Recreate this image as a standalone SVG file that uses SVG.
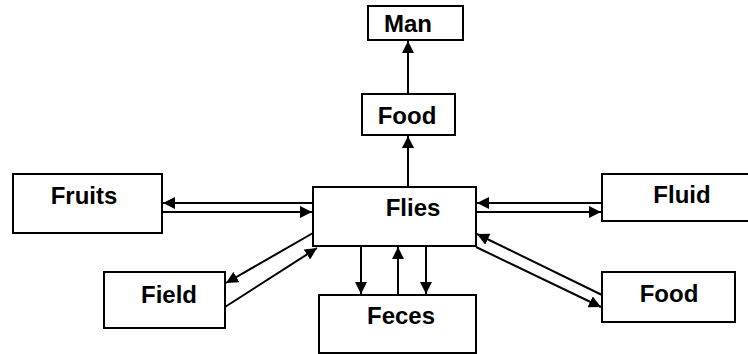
<svg xmlns="http://www.w3.org/2000/svg" width="748" height="354" viewBox="0 0 748 354">
<style>
.box{fill:#fff;stroke:#000;stroke-width:2}
.lbl{font-family:"Liberation Sans",Arial,sans-serif;font-weight:bold;font-size:24px;text-anchor:middle;fill:#000}
.c{stroke:#000;stroke-width:2;fill:none;marker-end:url(#ah)}
</style>
<defs>
<marker id="ah" markerUnits="userSpaceOnUse" markerWidth="14" markerHeight="12" refX="12" refY="6" orient="auto">
<path d="M0,0 L12,6 L0,12 Z" fill="#000"/>
</marker>
</defs>
<rect width="748" height="354" fill="#fff"/>
<g id="man"><rect class="box" x="368" y="6" width="95" height="34"/><text class="lbl" x="408" y="32">Man</text></g>
<g id="food-top"><rect class="box" x="362" y="94" width="93" height="41"/><text class="lbl" x="407" y="124">Food</text></g>
<g id="flies"><rect class="box" x="313" y="187" width="163" height="59"/><text class="lbl" x="413" y="216">Flies</text></g>
<g id="fruits"><rect class="box" x="13" y="174" width="149" height="59"/><text class="lbl" x="84" y="204">Fruits</text></g>
<g id="field"><rect class="box" x="104" y="272" width="121" height="56"/><text class="lbl" x="169" y="303">Field</text></g>
<g id="feces"><rect class="box" x="319" y="295" width="157" height="58"/><text class="lbl" x="401" y="324">Feces</text></g>
<g id="fluid"><rect class="box" x="602" y="174" width="150" height="47"/><text class="lbl" x="682" y="203">Fluid</text></g>
<g id="food-right"><rect class="box" x="602" y="272" width="133" height="50"/><text class="lbl" x="669" y="302">Food</text></g>
<g id="connectors">
<line class="c" x1="408" y1="94" x2="408" y2="41"/>
<line class="c" x1="408" y1="187" x2="408" y2="136"/>
<line class="c" x1="313" y1="203" x2="163" y2="203"/>
<line class="c" x1="162" y1="212" x2="312" y2="212"/>
<line class="c" x1="313" y1="233" x2="226" y2="283"/>
<line class="c" x1="225" y1="307" x2="317" y2="248"/>
<line class="c" x1="602" y1="203" x2="477" y2="203"/>
<line class="c" x1="476" y1="212" x2="601" y2="212"/>
<line class="c" x1="602" y1="295" x2="477" y2="234"/>
<line class="c" x1="476" y1="247" x2="601" y2="307"/>
<line class="c" x1="361" y1="246" x2="361" y2="294"/>
<line class="c" x1="398" y1="295" x2="398" y2="247"/>
<line class="c" x1="426" y1="246" x2="426" y2="294"/>
</g>
</svg>
